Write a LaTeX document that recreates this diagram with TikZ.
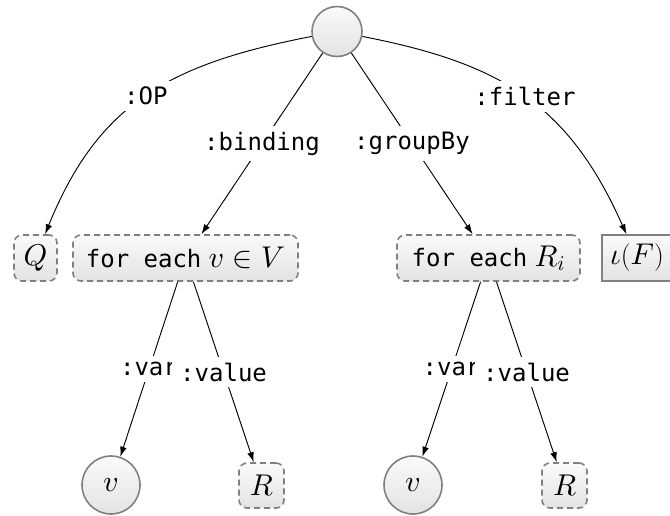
\documentclass[tikz,border=0pt]{standalone}
\usepackage{fontspec}
\setmonofont{DejaVu Sans Mono}
\usetikzlibrary{arrows.meta}
% let the math fonts scale to any size
\DeclareFontShape{OML}{cmm}{m}{it}{<->cmmi10}{}
\DeclareFontShape{OMS}{cmsy}{m}{n}{<->cmsy10}{}
\DeclareMathSizes{18}{22.5}{15.75}{11.25}

\newcommand{\labfont}{\fontsize{18}{22}\selectfont}

\begin{document}
\begin{tikzpicture}[x=0.75pt,y=-0.75pt,
  font=\labfont,
  shadefill/.style={top color=gray!4, bottom color=gray!22},
  box/.style={shadefill, draw=gray, line width=1.2pt, dash pattern=on 4.5pt off 3pt,
    rounded corners=6pt, minimum height=34.5pt, inner sep=0pt},
  solidbox/.style={shadefill, draw=gray, line width=1.2pt, minimum height=34.5pt, inner sep=0pt},
  circ/.style={circle, shadefill, draw=gray, line width=1.2pt, inner sep=0pt},
  link/.style={-{Latex[length=7.5pt,width=5pt]}, line width=0.7pt},
  lab/.style={fill=white, inner ysep=4.5pt, inner xsep=6pt, font=\labfont\ttfamily}
]
\useasboundingbox (0,0) rectangle (670,515);

% tree nodes
\node[circ, minimum size=37.5pt] (root) at (337,31.5) {};
\node[box, minimum width=32.25pt] (q) at (35.5,258) {$Q$};
\node[box, minimum width=168.75pt] (bind) at (185.5,258) {\texttt{for each} $v\in V$};
\node[box, minimum width=137.25pt] (grp) at (488.5,258) {\texttt{for each} $R_i$};
\node[solidbox, minimum width=52.5pt] (filt) at (637,258) {$\iota(F)$};
\node[circ, minimum size=43.5pt] (v1) at (111,485) {$v$};
\node[box, minimum width=33.75pt, minimum height=33.75pt] (r1) at (261.5,485.5) {$R$};
\node[circ, minimum size=43.5pt] (v2) at (413,485) {$v$};
\node[box, minimum width=33.75pt, minimum height=33.75pt] (r2) at (564.5,485.5) {$R$};

% edges from the root
\draw[link] (root) to[out=191,in=68,looseness=1.1] node[lab]{:OP} (q);
\draw[link] (root) -- node[lab]{:binding} (bind);
\draw[link] (root) -- node[lab]{:groupBy} (grp);
\draw[link] (root) to[out=-11,in=114,looseness=1.1] node[lab]{:filter} (filt);

% edges from the loops
\draw[link] (bind) -- node[lab]{:var} (v1);
\draw[link] (bind) -- node[lab]{:value} (r1);
\draw[link] (grp) -- node[lab]{:var} (v2);
\draw[link] (grp) -- node[lab]{:value} (r2);
\end{tikzpicture}
\end{document}
